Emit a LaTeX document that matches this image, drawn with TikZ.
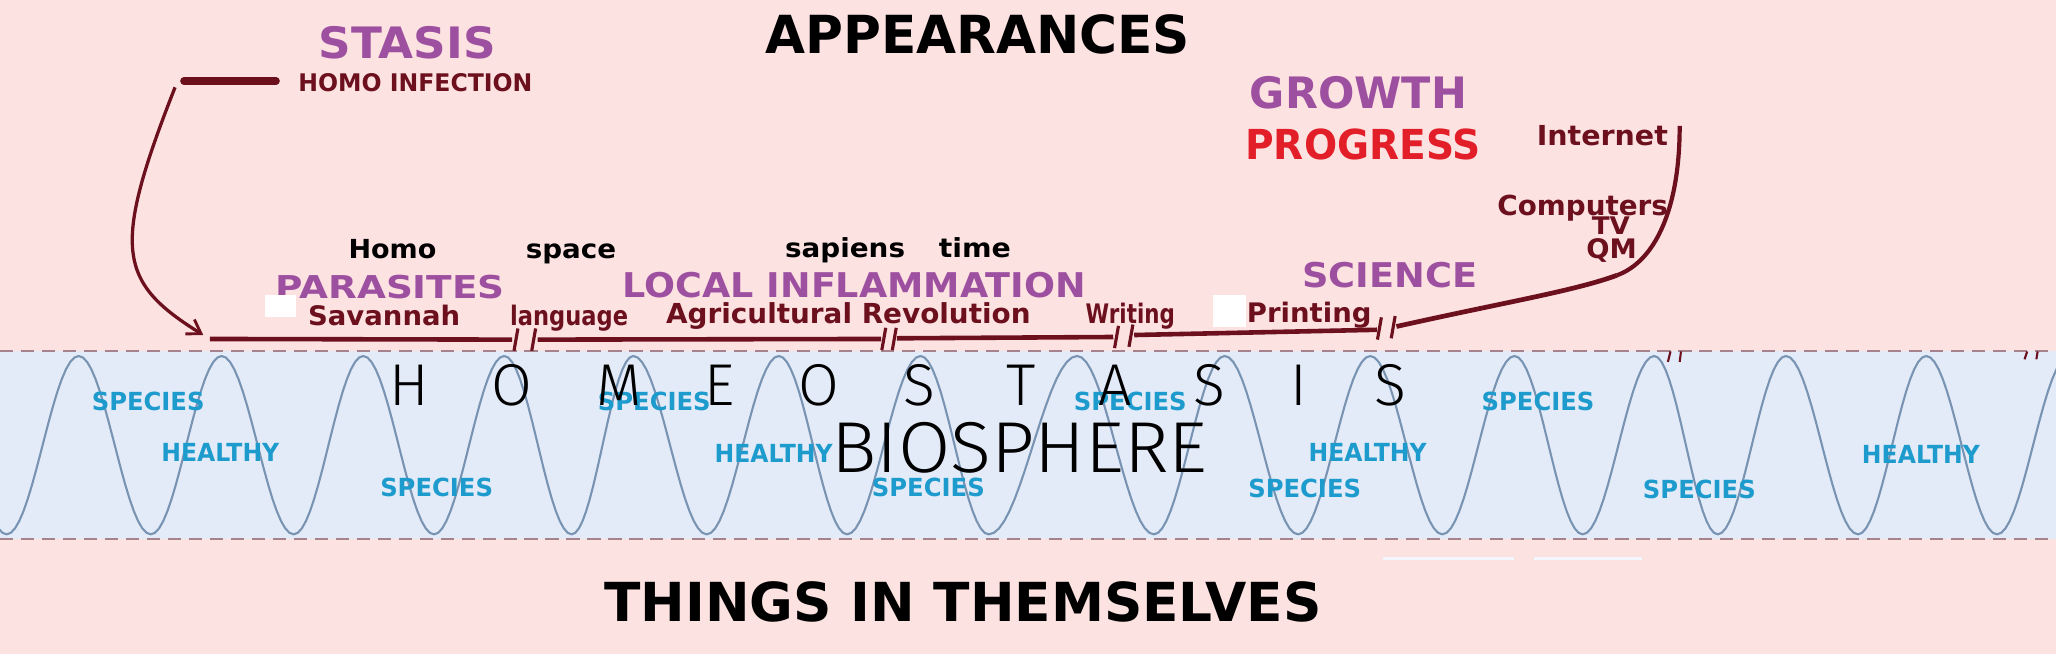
\documentclass[tikz,border=0pt]{standalone}
\usepackage{fontspec}
\usepackage{graphicx}
\usetikzlibrary{arrows.meta}
\setmainfont{DejaVu Sans}
\IfFontExistsTF{Fira Sans Light}{\newfontfamily\thinf{Fira Sans Light}}{\IfFontExistsTF{Lato Light}{\newfontfamily\thinf{Lato Light}}{\newfontfamily\thinf{DejaVu Sans}}}
\definecolor{bgpink}{RGB}{253,226,226}
\definecolor{bandblue}{RGB}{228,235,248}
\definecolor{wavec}{RGB}{120,148,178}
\definecolor{dashc}{RGB}{165,130,140}
\definecolor{purp}{RGB}{158,80,160}
\definecolor{mrn}{RGB}{108,16,30}
\definecolor{prog}{RGB}{226,30,40}
\definecolor{cyanl}{RGB}{30,155,205}
\newcommand\tx[3]{\resizebox{#2pt}{\height}{\fontsize{#1}{#1}\selectfont\bfseries #3}}
\newcommand\thn[1]{{\thinf\fontsize{45}{45}\selectfont #1}}
\tikzset{
  lbl/.style={inner sep=0pt, outer sep=0pt, anchor=base},
  tl/.style={draw=mrn, line width=3.5pt},
  brk/.style={draw=mrn, line width=2.4pt},
  wave/.style={draw=wavec, line width=1.6pt, line join=round},
  bandline/.style={draw=dashc, line width=1.5pt, dash pattern=on 10pt off 6pt},
  letter/.style={inner sep=0pt, anchor=base, text=black}
}
\begin{document}
\begin{tikzpicture}[x=1pt,y=-1pt]
\useasboundingbox (0,0) rectangle (1568,499);
\fill[bgpink] (0,0) rectangle (1568,499);
% band
\fill[bandblue] (0,268) rectangle (1568,411);
\begin{scope}
\clip (0,262) rectangle (1568,416);
\draw[wave] (-48,271.5) foreach \a/\b/\s in {-48/5/1, 5/60/-1, 60/115/1, 115/169/-1, 169/224/1, 224/277/-1, 277/331/1, 331/384.5/-1, 384.5/436/1, 436/483/-1, 483/539/1, 539/594/-1, 594/646/1, 646/702/-1, 702/754/1, 754/821.5/-1, 821.5/880/1, 880/934/-1, 934/990/1, 990/1045/-1, 1045/1100/1, 1100/1155/-1, 1155/1207/1, 1207/1261.5/-1, 1261.5/1310/1, 1310/1362/-1, 1362/1417/1, 1417/1469/-1, 1469/1523/1, 1523/1578/-1} { -- plot[domain=0:1, samples=18] ({\a+(\b-(\a))*\x},{339.5-(\s)*68*cos(180*\x)}) };
\end{scope}
\draw[bandline] (0,268) -- (1568,268);
\draw[bandline] (0,411) -- (1568,411);
\fill[white!55!bandblue] (1055,424.5) rectangle (1155,427);
\fill[white!55!bandblue] (1170,424.5) rectangle (1252,427);
% species labels
\foreach \n/\px/\py in {s1/113/312.7, s2/333/379, s3/499/312.7, s4/708/379, s5/862/312.7, s6/995/379.5, s7/1173/312.7, s8/1296/380.5}
  \node[lbl, text=cyanl] (\n) at (\px,\py) {\tx{19}{86}{SPECIES}};
\foreach \n/\px/\py in {h1/168/352, h2/590/353, h3/1043/352, h4/1465/353.8}
  \node[lbl, text=cyanl] (\n) at (\px,\py) {\tx{19}{90}{HEALTHY}};
% HOMEOSTASIS
\foreach \n/\px/\ch in {L1/312/H, L2/390.5/O, L3/472.5/M, L4/549/E, L5/624.5/O, L6/701.5/S, L7/779/T, L8/850.5/A, L9/922.5/S, L10/990.5/I, L11/1060.5/S}
  \node[letter] (\n) at (\px,309) {\thn{\ch}};
\node[letter] (bio) at (777.5,360) {\resizebox{287pt}{\height}{\thinf\fontsize{55}{55}\selectfont BIOSPHERE}};
% titles
\node[lbl, text=black] (app) at (745.6,40.6) {\tx{40}{324}{APPEARANCES}};
\node[lbl, text=black] (things) at (734.5,474) {\tx{41}{547}{THINGS IN THEMSELVES}};
\node[lbl, text=purp] (stasis) at (310.5,44.5) {\tx{33}{135}{STASIS}};
\node[lbl, text=mrn] (homoinf) at (316.8,70) {\tx{18.5}{178.5}{HOMO INFECTION}};
\node[lbl, text=purp] (growth) at (1036,82.6) {\tx{33}{165.5}{GROWTH}};
\node[lbl, text=prog] (progress) at (1039.5,122) {\tx{31.5}{179.5}{PROGRESS}};
\node[lbl, text=mrn] (internet) at (1222,110.6) {\tx{21}{100}{Internet}};
\node[lbl, text=mrn] (computers) at (1207,164) {\tx{21}{130}{Computers}};
\node[lbl, text=mrn] (tv) at (1228.5,179) {\tx{18.5}{29}{TV}};
\node[lbl, text=mrn] (qm) at (1229,197) {\tx{20.5}{38.5}{QM}};
\node[lbl, text=purp] (science) at (1060,219) {\tx{26}{133.5}{SCIENCE}};
\node[lbl, text=black] (homo) at (299.3,197) {\tx{20}{67}{Homo}};
\node[lbl, text=black] (space) at (435.5,197) {\tx{20}{69}{space}};
\node[lbl, text=black] (sapiens) at (644.5,196) {\tx{20}{91.5}{sapiens}};
\node[lbl, text=black] (time) at (743.5,196) {\tx{20}{55}{time}};
\node[lbl, text=purp] (parasites) at (297.5,227.3) {\tx{24}{175}{PARASITES}};
\node[lbl, text=purp] (localinf) at (651.5,226.5) {\tx{26}{353}{LOCAL INFLAMMATION}};
\fill[white] (202,225) rectangle (226,242);
\fill[white] (925,225) rectangle (950,249);
\node[lbl, text=mrn] (savannah) at (293,248) {\tx{20.5}{116}{Savannah}};
\node[lbl, text=mrn] (language) at (434,248) {\tx{20.5}{90}{language}};
\node[lbl, text=mrn] (agri) at (647,246.6) {\tx{21}{278}{Agricultural Revolution}};
\node[lbl, text=mrn] (writing) at (862,246.6) {\tx{20.5}{68}{Writing}};
\node[lbl, text=mrn] (printing) at (998.5,245.6) {\tx{20.5}{95}{Printing}};
% stasis bar and arrow
\coordinate (barL) at (140.3,61.8);
\coordinate (barR) at (210.5,61.8);
\draw[mrn, line width=5.8pt, line cap=round] (barL) -- (barR);
\coordinate (arrS) at (133.5,66.6);
\coordinate (arrE) at (155,255.5);
\draw[mrn, line width=2.5pt, -{Straight Barb[length=10pt, width=13pt, line width=2.2pt]}] (arrS) .. controls (85,190) and (90,215) .. (arrE);
% timeline
\coordinate (t0) at (160,258.5);
\coordinate (t1) at (390.5,259);
\coordinate (t2) at (410,259);
\coordinate (t3) at (672,258.5);
\coordinate (t4) at (684,258);
\coordinate (t5) at (849,257);
\coordinate (t6) at (865,255.5);
\coordinate (t7) at (1050,251.5);
\coordinate (t8) at (1065,249);
\coordinate (t9) at (1233,210);
\coordinate (t10) at (1281,96);
\draw[tl] (t0) -- (t1);
\draw[tl] (t2) -- (t3);
\draw[tl] (t4) -- (t5);
\draw[tl] (t6) -- (t7);
\draw[mrn, line width=3.6pt] (t8) .. controls (1150,230) and (1200,222) .. (t9);
\draw[mrn, line width=3.2pt] (t9) .. controls (1262,199.5) and (1281,160) .. (t10);
\foreach \bx/\by in {393.5/259, 407/259, 674/258.5, 682/258.5, 851.5/257, 862.5/256, 1052/250.5, 1062.5/249.5}
  \draw[brk] (\bx-1.5,\by+8.5) -- (\bx+1.5,\by-8.5);
% small marks on band edge
\draw[mrn, line width=1.6pt] (1272,276) -- (1274,268) (1281,276) -- (1282,268);
\draw[mrn, line width=1.6pt] (1544,274) -- (1546,268) (1553,274) -- (1554,268);
\end{tikzpicture}
\end{document}
